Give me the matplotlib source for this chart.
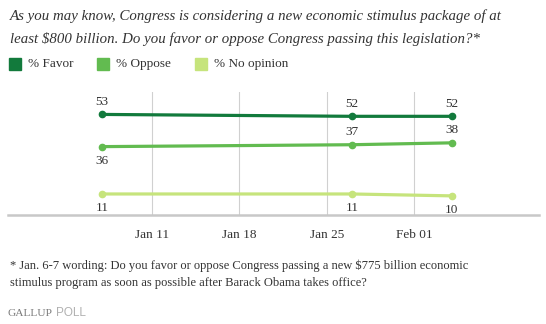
import datetime as dt
import matplotlib
matplotlib.use('Agg')
import matplotlib.pyplot as plt
import matplotlib.dates as mdates
from matplotlib.patches import Rectangle

# poll dates and results
dates = [dt.date(2009, 1, 7), dt.date(2009, 1, 27), dt.date(2009, 2, 4)]
favor = [53, 52, 52]
oppose = [36, 37, 38]
no_opinion = [11, 11, 10]
tick_dates = [dt.date(2009, 1, 11), dt.date(2009, 1, 18), dt.date(2009, 1, 25), dt.date(2009, 2, 1)]
tick_labels = ['Jan 11', 'Jan 18', 'Jan 25', 'Feb 01']

series = [
    ('% Favor', favor, '#127a3c', ['above', 'above', 'above']),
    ('% Oppose', oppose, '#62bb50', ['below', 'above', 'above']),
    ('% No opinion', no_opinion, '#c6e47c', ['below', 'below', 'below']),
]

SERIF = ['Liberation Serif', 'DejaVu Serif']
TXT = '#333333'

fig = plt.figure(figsize=(5.46, 3.24), dpi=100)
ax = fig.add_axes([8 / 546, 0.337, 531 / 546, 0.38])

for name, vals, col, pos in series:
    ax.plot(dates, vals, color=col, lw=2.3, marker='o', ms=4.5, solid_capstyle='round', zorder=3)
    for d, v, p in zip(dates, vals, pos):
        off = 9 if p == 'above' else -10
        ax.annotate(str(v), (mdates.date2num(d), v), xytext=(0, off), textcoords='offset points',
                    ha='center', va='center', fontsize=9.5, color=TXT, family=SERIF)

ax.set_xlim(mdates.date2num(dt.date(2008, 12, 30)) + 0.5, mdates.date2num(dt.date(2009, 2, 10)) + 0.96)
ax.set_ylim(0, 65)
ax.set_xticks([mdates.date2num(d) for d in tick_dates])
ax.set_xticklabels(tick_labels, family=SERIF, fontsize=9.5, color=TXT)
ax.tick_params(axis='x', length=0, pad=10)
ax.set_yticks([])
ax.grid(axis='x', color='#d0d0d0', lw=0.8)
for s in ['top', 'right', 'left']:
    ax.spines[s].set_visible(False)
ax.spines['bottom'].set_color('#c8c8c8')
ax.spines['bottom'].set_linewidth(1.8)

# question text
fig.text(10 / 546, 1 - 16 / 324, 'As you may know, Congress is considering a new economic stimulus package of at',
         family=SERIF, style='italic', fontsize=10.7, color=TXT, va='center')
fig.text(10 / 546, 1 - 39 / 324, 'least $800 billion. Do you favor or oppose Congress passing this legislation?*',
         family=SERIF, style='italic', fontsize=10.7, color=TXT, va='center')

# legend
for x0, (name, _, col, _) in zip([9, 97, 195], series):
    fig.patches.append(Rectangle((x0 / 546, 1 - 70 / 324), 12 / 546, 12 / 324,
                                 transform=fig.transFigure, color=col))
    fig.text((x0 + 19) / 546, 1 - 64 / 324, name, family=SERIF, fontsize=9.5, color=TXT, va='center')

# footnote
fig.text(10 / 546, 1 - 266 / 324, '* Jan. 6-7 wording: Do you favor or oppose Congress passing a new $775 billion economic',
         family=SERIF, fontsize=9, color=TXT, va='center')
fig.text(10 / 546, 1 - 283 / 324, 'stimulus program as soon as possible after Barack Obama takes office?',
         family=SERIF, fontsize=9, color=TXT, va='center')
fig.text(8 / 546, 1 - 313 / 324, 'GALLUP', family=SERIF, fontsize=8.2, color='#7a7a7a', va='center')
fig.text(56 / 546, 1 - 313 / 324, 'POLL', family=['Liberation Sans', 'DejaVu Sans'], fontsize=8.5,
         color='#b0b0b0', va='center')

fig.savefig('out.png', dpi=100)
